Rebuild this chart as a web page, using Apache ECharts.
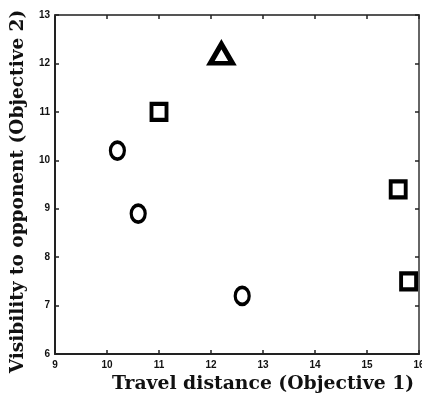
<!DOCTYPE html>
<html><head><meta charset="utf-8">
<script src="https://cdn.jsdelivr.net/npm/echarts@6/dist/echarts.min.js"></script>
<style>html,body{margin:0;padding:0;background:#fff}#c{width:422px;height:399px}</style>
</head><body><div id="c"></div>
<script>
const xTicks = [9,10,11,12,13,14,15,16];
const yTicks = [6,7,8,9,10,11,12,13];
const circlePts = [[10.2,10.2],[10.6,8.9],[12.6,7.2]];
const squarePts = [[11.0,11.0],[15.6,9.4],[15.8,7.5]];
const trianglePts = [[12.2,12.2]];
const xTitle = 'Travel distance (Objective 1)';
const yTitle = 'Visibility to opponent (Objective 2)';

const chart = echarts.init(document.getElementById('c'));
const tickFont = {fontFamily:'Liberation Sans Narrow, Liberation Sans', fontWeight:'bold', fontSize:10, color:'#111'};
const baseAxis = {
  min: 9, max: 16, interval: 1,
  axisLine:{show:true, lineStyle:{color:'#222', width:2}},
  axisTick:{show:true, inside:true, length:4, lineStyle:{color:'#222', width:1.5}},
  splitLine:{show:false}
};
chart.setOption({
  animation:false,
  backgroundColor:'#fff',
  grid:{left:55, right:3, top:15, bottom:45, outerBoundsMode:'none', containLabel:false},
  xAxis:[
    Object.assign({}, baseAxis, {type:'value', position:'bottom',
      axisLabel:Object.assign({margin:6, formatter:v=>xTicks.includes(v)?String(v):''}, tickFont),
      name:xTitle, nameLocation:'middle', nameGap:21,
      nameTextStyle:{fontFamily:'DejaVu Serif', fontWeight:'bold', fontSize:18.8, color:'#111', padding:[0,0,0,52]}}),
    Object.assign({}, baseAxis, {type:'value', position:'top', axisLabel:{show:false},
      axisLine:{show:true, lineStyle:{color:'#555', width:2}}})
  ],
  yAxis:[
    Object.assign({}, baseAxis, {type:'value', min:6, max:13, position:'left',
      axisLabel:Object.assign({margin:5, formatter:v=>yTicks.includes(v)?String(v):''}, tickFont),
      name:yTitle, nameLocation:'middle', nameGap:21, nameRotate:90,
      nameTextStyle:{fontFamily:'DejaVu Serif', fontWeight:'bold', fontSize:18.5, color:'#111', padding:[0,14,0,0]}}),
    Object.assign({}, baseAxis, {type:'value', min:6, max:13, position:'right', axisLabel:{show:false},
      axisLine:{show:true, lineStyle:{color:'#666', width:2}}})
  ],
  series:[
    {type:'scatter', data:circlePts, symbol:'circle', symbolSize:[14,17],
      itemStyle:{color:'#fff', borderColor:'#000', borderWidth:3.5, opacity:1}},
    {type:'scatter', data:squarePts, symbol:'rect', symbolSize:[15,16],
      itemStyle:{color:'#fff', borderColor:'#000', borderWidth:4, opacity:1}},
    {type:'scatter', data:trianglePts, symbol:'triangle', symbolSize:[22,19],
      itemStyle:{color:'#fff', borderColor:'#000', borderWidth:5, opacity:1}}
  ]
});
</script></body></html>
